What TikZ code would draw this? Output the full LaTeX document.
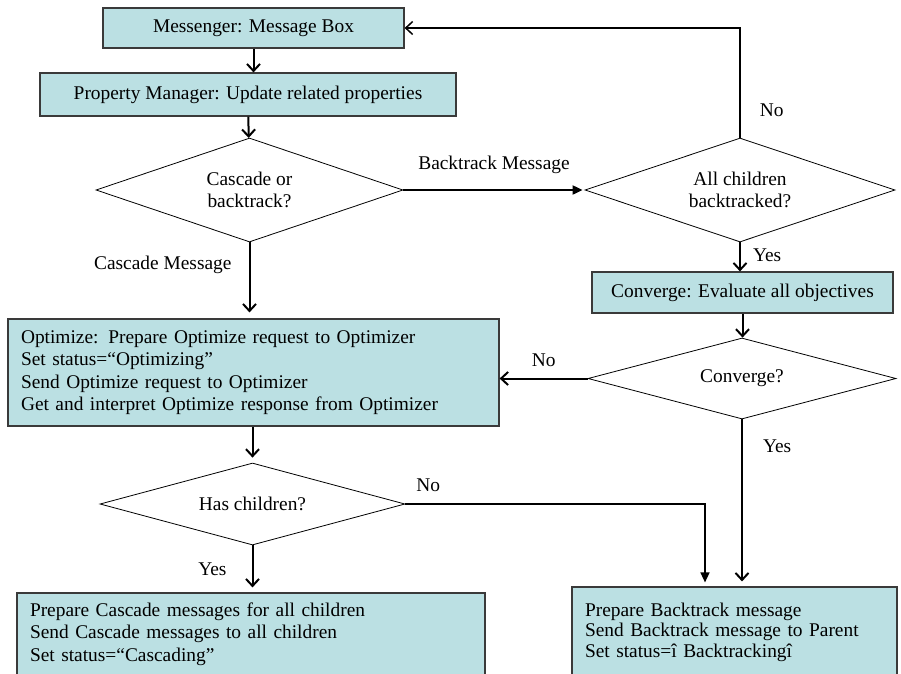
\documentclass[tikz,border=0pt]{standalone}
\usepackage{fontspec}
\setmainfont{Liberation Serif}
\usepackage{tikz}
\usetikzlibrary{arrows.meta}
\usetikzlibrary{shapes.geometric}
\definecolor{boxfill}{HTML}{BBE0E3}
\definecolor{boxrule}{HTML}{3A3A3A}

\begin{document}
\begin{tikzpicture}[x=1pt,y=-1pt,->,>={Straight Barb[length=7pt,width=13pt]},
  font=\fontsize{19.4}{22.5}\selectfont,
  task node/.style={rectangle,fill=boxfill,draw=boxrule,line width=1.2pt,inner sep=0pt},
  list node/.style={task node,align=left,inner xsep=13pt},
  test node/.style={diamond,draw=black,line width=0.8pt,aspect=3,inner sep=0pt,align=center},
  solid tip/.style={-{Triangle[length=10pt,width=9pt]}}]

\clip (0,0) rectangle (901,673);

\node[task node,minimum width=301pt,minimum height=40pt] (msg) at (253.5,28) {Messenger: Message Box};
\node[task node,minimum width=416pt,minimum height=43pt] (props) at (248,94.5) {Property Manager: Update related properties};
\node[test node,minimum width=307pt,minimum height=104pt] (route) at (249.5,190) {Cascade or\\backtrack?};
\node[test node,minimum width=310pt,minimum height=104pt] (allback) at (740,190) {All children\\backtracked?};
\node[task node,minimum width=301pt,minimum height=41pt] (conv) at (742.5,292.5) {Converge: Evaluate all objectives};
\node[test node,minimum width=308pt,minimum height=81pt] (convq) at (742,378.5) {Converge?};
\node[list node,text width=465pt,minimum height=107pt] (optim) at (253.5,372.5) {Optimize: Prepare Optimize request to Optimizer\\Set status=“Optimizing”\\Send Optimize request to Optimizer\\Get and interpret Optimize response from Optimizer};
\node[test node,minimum width=305pt,minimum height=82pt] (kids) at (252.5,504) {Has children?};
\node[list node,text width=442pt,minimum height=82pt] (cascade) at (251,634) {Prepare Cascade messages for all children\\Send Cascade messages to all children\\Set status=“Cascading”};
\node[list node,text width=299pt,minimum height=90pt,font=\fontsize{19.4}{20.5}\selectfont] (backtrack) at (734.5,632) {Prepare Backtrack message\\Send Backtrack message to Parent\\Set status=î Backtrackingî};

\coordinate (noin) at ([xshift=-29.5pt]backtrack.north);

  \path[line width=2pt,every node/.style={inner sep=2pt}]

(msg.south)	edge (msg.south |- props.north)
(props)	edge (route)
(route)	edge [solid tip,shorten >=2pt] node [above=13pt] {Backtrack Message} (allback)
	edge [shorten >=6pt] node [left=15pt,pos=0.3] {Cascade Message} (route.south |- optim.north)
(allback)	edge [line width=1.5pt,to path={|- (\tikztotarget) \tikztonodes}] node [pos=0.125,right=17pt] {No} (msg)
(allback.south)	edge node [pos=0.45,right=10pt] {Yes} (allback.south |- conv.north)
(conv.south)	edge (conv.south |- convq.north)
(convq.west)	edge node [above=9pt] {No} (convq.west -| optim.east)
(convq.south)	edge [shorten >=5pt] node [pos=0.16,right=18pt] {Yes} (convq.south |- backtrack.north)
(kids.north |- optim.south)	edge [shorten >=5pt] (kids.north)
(kids.south)	edge [shorten >=5pt] node [left=23pt] {Yes} (kids.south |- cascade.north)
(kids)	edge [solid tip,line width=1.5pt,shorten >=4pt,to path={-| (\tikztotarget) \tikztonodes}] node [pos=0.038,above=10pt] {No} (noin)

;
\end{tikzpicture}
\end{document}
